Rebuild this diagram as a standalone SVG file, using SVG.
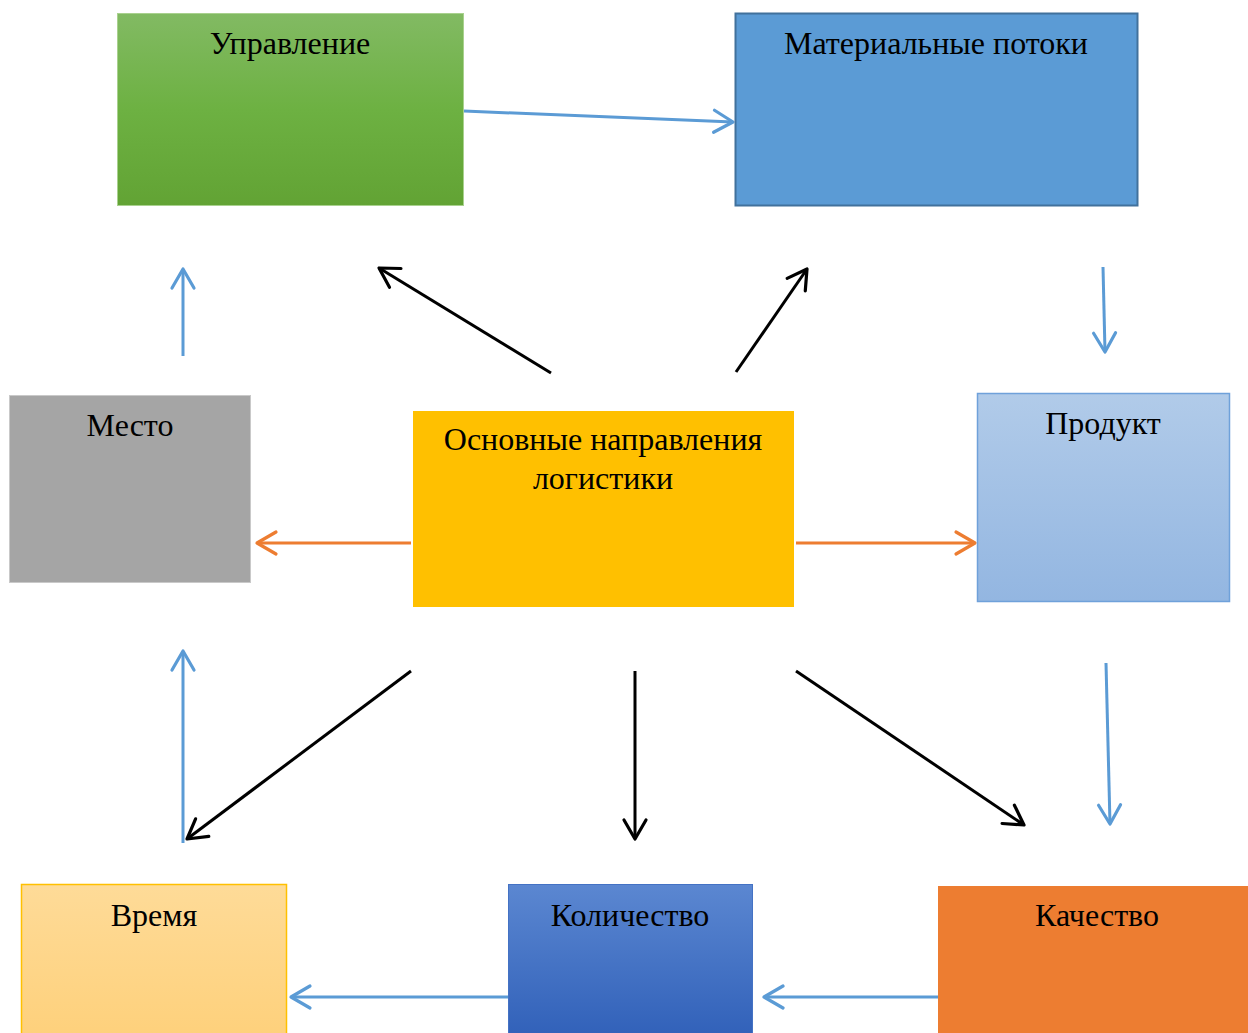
<svg xmlns="http://www.w3.org/2000/svg" width="1248" height="1033" viewBox="0 0 1248 1033">
<style>
.lbl{font-family:"Liberation Serif","Times New Roman",serif;font-size:32px;fill:#000;text-anchor:middle}
.c{fill:none;stroke-width:3}
.blue{stroke:#5b9bd5}
.orange{stroke:#ed7d31}
.black{stroke:#000}
</style>
<defs>
<linearGradient id="gGreen" x1="0" y1="0" x2="0" y2="1"><stop offset="0" stop-color="#82ba63"/><stop offset="0.5" stop-color="#6db142"/><stop offset="1" stop-color="#62a334"/></linearGradient>
<linearGradient id="gProd" x1="0" y1="0" x2="0" y2="1"><stop offset="0" stop-color="#b1cbe9"/><stop offset="1" stop-color="#93b6e1"/></linearGradient>
<linearGradient id="gTime" x1="0" y1="0" x2="0" y2="1"><stop offset="0" stop-color="#fedb98"/><stop offset="1" stop-color="#fed07a"/></linearGradient>
<linearGradient id="gQty" x1="0" y1="0" x2="0" y2="1"><stop offset="0" stop-color="#5b87d1"/><stop offset="1" stop-color="#2f5fb8"/></linearGradient>
<marker id="aBlue" markerUnits="userSpaceOnUse" viewBox="0 0 22 24" markerWidth="22" markerHeight="24" refX="20" refY="12" orient="auto" overflow="visible"><path d="M1,1 L20,12 L1,23" fill="none" stroke="#5b9bd5" stroke-width="3.2" stroke-linecap="round" stroke-linejoin="round"/></marker>
<marker id="aOrange" markerUnits="userSpaceOnUse" viewBox="0 0 22 24" markerWidth="22" markerHeight="24" refX="20" refY="12" orient="auto" overflow="visible"><path d="M1,1 L20,12 L1,23" fill="none" stroke="#ed7d31" stroke-width="3.2" stroke-linecap="round" stroke-linejoin="round"/></marker>
<marker id="aBlack" markerUnits="userSpaceOnUse" viewBox="0 0 22 24" markerWidth="22" markerHeight="24" refX="20" refY="12" orient="auto" overflow="visible"><path d="M1,1 L20,12 L1,23" fill="none" stroke="#000" stroke-width="3.2" stroke-linecap="round" stroke-linejoin="round"/></marker>
</defs>
<rect width="1248" height="1033" fill="#fff"/>
<g id="connectors">
<line class="c blue" x1="464" y1="111" x2="733" y2="122" marker-end="url(#aBlue)"/>
<line class="c blue" x1="1103" y1="267" x2="1105" y2="352" marker-end="url(#aBlue)"/>
<line class="c blue" x1="1106" y1="663" x2="1110" y2="824" marker-end="url(#aBlue)"/>
<line class="c blue" x1="942" y1="997" x2="764" y2="997" marker-end="url(#aBlue)"/>
<line class="c blue" x1="508" y1="997" x2="291" y2="997" marker-end="url(#aBlue)"/>
<line class="c blue" x1="183" y1="843" x2="183" y2="651" marker-end="url(#aBlue)"/>
<line class="c blue" x1="183" y1="356" x2="183" y2="269" marker-end="url(#aBlue)"/>
<line class="c orange" x1="411" y1="543" x2="257" y2="543" marker-end="url(#aOrange)"/>
<line class="c orange" x1="796" y1="543" x2="975" y2="543" marker-end="url(#aOrange)"/>
<line class="c black" x1="551" y1="373" x2="379" y2="268" marker-end="url(#aBlack)"/>
<line class="c black" x1="736" y1="372" x2="807" y2="269" marker-end="url(#aBlack)"/>
<line class="c black" x1="411" y1="671" x2="187" y2="839" marker-end="url(#aBlack)"/>
<line class="c black" x1="635" y1="671" x2="635" y2="839" marker-end="url(#aBlack)"/>
<line class="c black" x1="796" y1="671" x2="1024" y2="825" marker-end="url(#aBlack)"/>
</g>
<g id="upravlenie">
<rect x="117.5" y="13.5" width="346" height="192" fill="url(#gGreen)" stroke="#a9d18e" stroke-width="1"/>
<text class="lbl" x="290" y="54">Управление</text>
</g>
<g id="materialnye">
<rect x="735.5" y="13.5" width="402" height="192" fill="#5b9bd5" stroke="#41719c" stroke-width="2"/>
<text class="lbl" x="936" y="54">Материальные потоки</text>
</g>
<g id="mesto">
<rect x="9.5" y="395.5" width="241" height="187" fill="#a5a5a5" stroke="#c9c9c9" stroke-width="1"/>
<text class="lbl" x="130" y="436">Место</text>
</g>
<g id="center">
<rect x="413" y="411" width="381" height="196" fill="#ffc000"/>
<text class="lbl" x="603" y="450">Основные направления</text>
<text class="lbl" x="603" y="489">логистики</text>
</g>
<g id="produkt">
<rect x="977.5" y="393.5" width="252" height="208" fill="url(#gProd)" stroke="#6fa1da" stroke-width="1.5"/>
<text class="lbl" x="1103" y="434">Продукт</text>
</g>
<g id="vremya">
<rect x="21.5" y="884.5" width="265" height="160" fill="url(#gTime)" stroke="#ffc000" stroke-width="1.5"/>
<text class="lbl" x="154" y="926">Время</text>
</g>
<g id="kolichestvo">
<rect x="508.5" y="884.5" width="244" height="160" fill="url(#gQty)" stroke="#4472c4" stroke-width="1"/>
<text class="lbl" x="630" y="926">Количество</text>
</g>
<g id="kachestvo">
<rect x="938" y="886" width="320" height="160" fill="#ed7d31"/>
<text class="lbl" x="1097" y="926">Качество</text>
</g>
</svg>
